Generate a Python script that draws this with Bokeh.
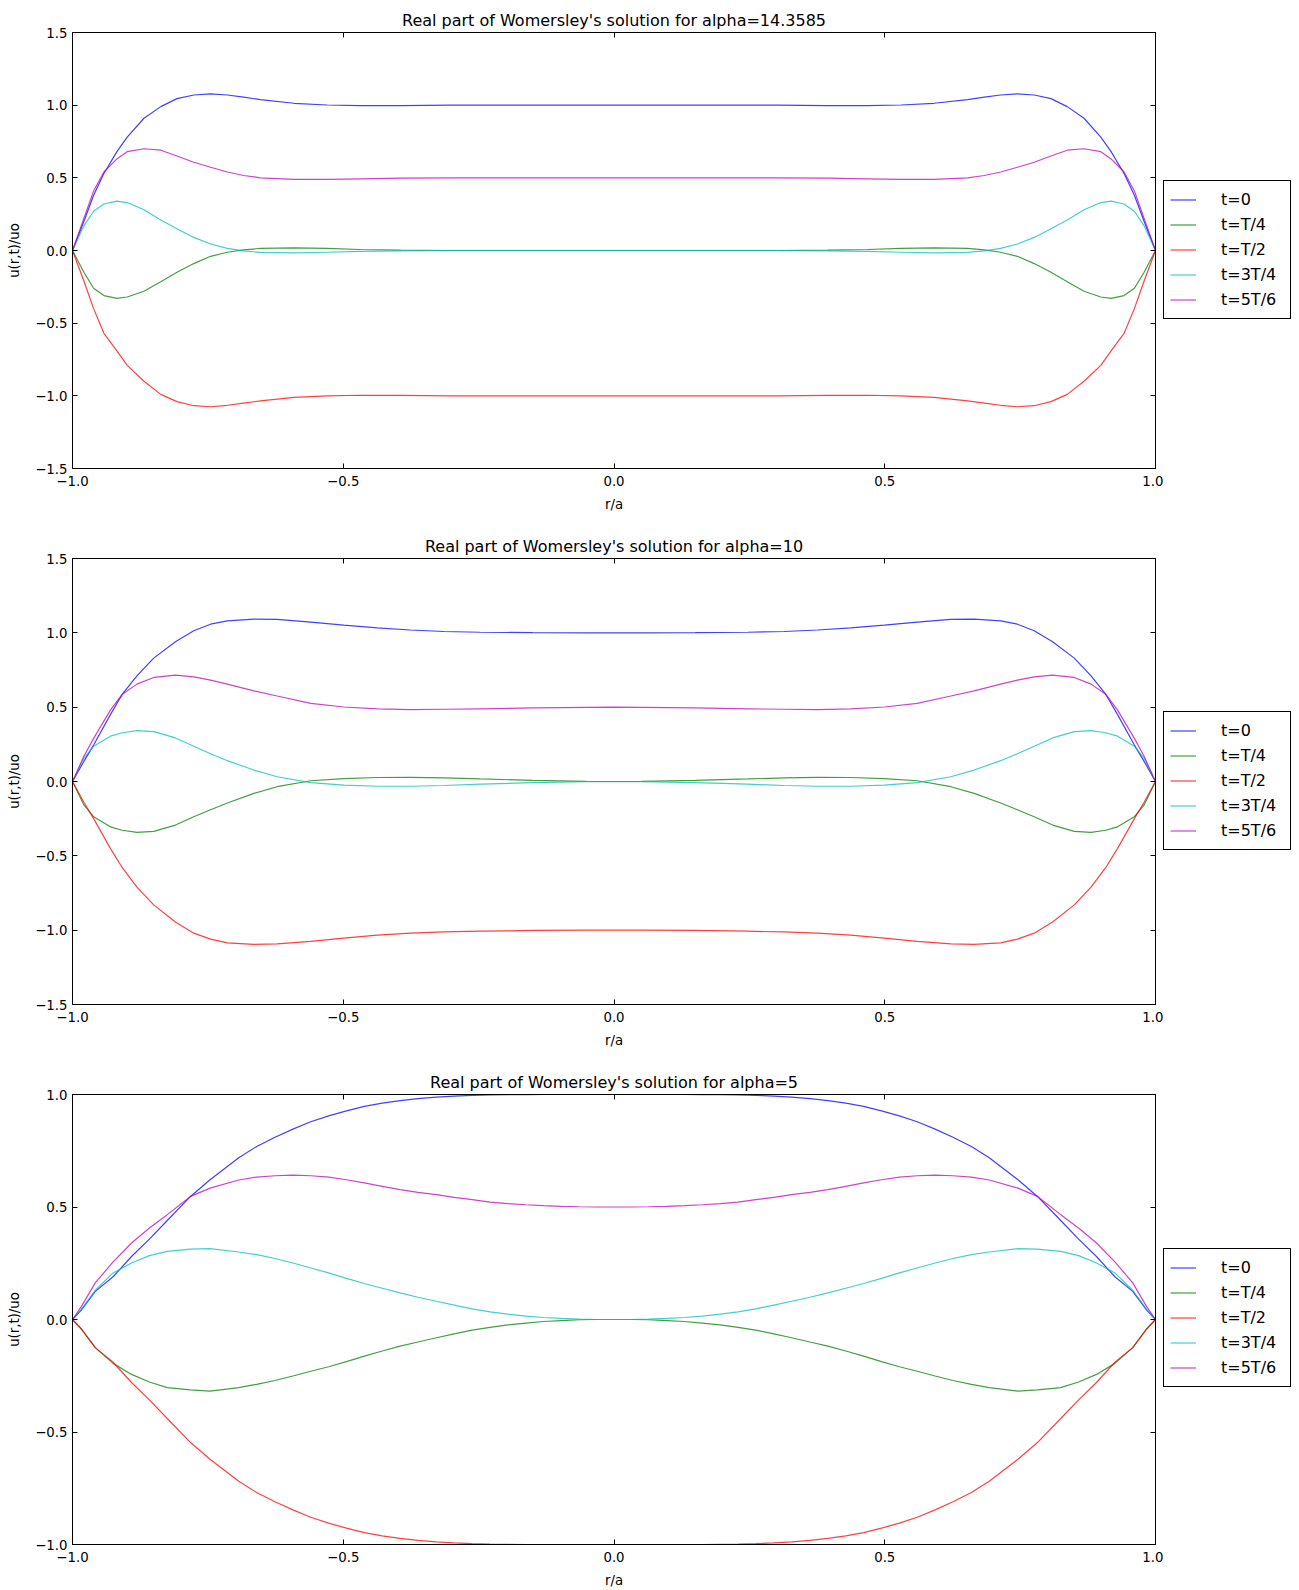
from bokeh.plotting import figure
from bokeh.models import (Range1d, LinearAxis, FixedTicker, CustomJSTickFormatter,
                          Legend, LegendItem)
from bokeh.layouts import column, row
from bokeh.embed import file_html
from bokeh.resources import INLINE

# ---------------- data ----------------
labels = ["t=0", "t=T/4", "t=T/2", "t=3T/4", "t=5T/6"]
titles = ["Real part of Womersley's solution for alpha=14.3585",
          "Real part of Womersley's solution for alpha=10",
          "Real part of Womersley's solution for alpha=5"]
x_ticks = [-1.0, -0.5, 0.0, 0.5, 1.0]
y_ticks_a = [-1.5, -1.0, -0.5, 0.0, 0.5, 1.0, 1.5]
y_ticks_b = [-1.0, -0.5, 0.0, 0.5, 1.0]

# panel 1 (alpha = 14.3585)
x1 = [-1.0, -0.979, -0.961, -0.942, -0.918, -0.899, -0.868, -0.837, -0.807, -0.776, -0.745,
      -0.714, -0.684, -0.653, -0.591, -0.53, -0.468, -0.394, -0.3, -0.2, -0.1, 0.0,
      0.1, 0.2, 0.3, 0.394, 0.468, 0.53, 0.591, 0.653, 0.684, 0.714, 0.745, 0.776,
      0.807, 0.837, 0.868, 0.899, 0.918, 0.942, 0.961, 0.979, 1.0]
blue1 = [0.0, 0.2, 0.38, 0.53, 0.68, 0.78, 0.91, 0.99, 1.045, 1.07, 1.078, 1.07, 1.055, 1.038,
         1.013, 1.001, 0.997, 0.997, 1.0, 1.0, 1.0, 1.0,
         1.0, 1.0, 1.0, 0.997, 0.997, 1.001, 1.013, 1.038, 1.055, 1.07, 1.078, 1.07, 1.045,
         0.99, 0.91, 0.78, 0.68, 0.53, 0.38, 0.2, 0.0]
green1 = [0.0, -0.15, -0.26, -0.31, -0.33, -0.32, -0.28, -0.215, -0.15, -0.09, -0.04, -0.012,
          0.004, 0.014, 0.018, 0.014, 0.007, 0.002, 0.0, 0.0, 0.0, 0.0,
          0.0, 0.0, 0.0, 0.002, 0.007, 0.014, 0.018, 0.014, 0.004, -0.012, -0.04, -0.09,
          -0.15, -0.215, -0.28, -0.32, -0.33, -0.31, -0.26, -0.15, 0.0]
red1 = [0.0, -0.21, -0.4, -0.57, -0.69, -0.79, -0.9, -0.99, -1.04, -1.068, -1.075, -1.065,
        -1.05, -1.035, -1.01, -1.0, -0.996, -0.997, -1.0, -1.0, -1.0, -1.0,
        -1.0, -1.0, -1.0, -0.997, -0.996, -1.0, -1.01, -1.035, -1.05, -1.065, -1.075, -1.068,
        -1.04, -0.99, -0.9, -0.79, -0.69, -0.57, -0.4, -0.21, 0.0]
cyan1 = [0.0, 0.17, 0.27, 0.32, 0.34, 0.33, 0.28, 0.21, 0.15, 0.09, 0.045, 0.015, -0.003,
         -0.013, -0.017, -0.012, -0.006, -0.002, 0.0, 0.0, 0.0, 0.0,
         0.0, 0.0, 0.0, -0.002, -0.006, -0.012, -0.017, -0.013, -0.003, 0.015, 0.045, 0.09,
         0.15, 0.21, 0.28, 0.33, 0.34, 0.32, 0.27, 0.17, 0.0]
magenta1 = [0.0, 0.22, 0.41, 0.54, 0.63, 0.68, 0.7, 0.69, 0.65, 0.607, 0.573, 0.54, 0.516, 0.5,
            0.49, 0.489, 0.493, 0.498, 0.5, 0.5, 0.5, 0.5,
            0.5, 0.5, 0.5, 0.498, 0.493, 0.489, 0.49, 0.5, 0.516, 0.54, 0.573, 0.607, 0.65,
            0.69, 0.7, 0.68, 0.63, 0.54, 0.41, 0.22, 0.0]

# panel 2 (alpha = 10)
x2 = [-1.0, -0.979, -0.961, -0.93, -0.908, -0.881, -0.85, -0.81, -0.776, -0.745, -0.714,
      -0.665, -0.622, -0.56, -0.499, -0.437, -0.376, -0.314, -0.247, -0.15, -0.05, 0.0,
      0.05, 0.15, 0.247, 0.314, 0.376, 0.437, 0.499, 0.56, 0.622, 0.665, 0.714, 0.745,
      0.776, 0.81, 0.85, 0.881, 0.908, 0.93, 0.961, 0.979, 1.0]
blue2 = [0.0, 0.135, 0.245, 0.45, 0.587, 0.71, 0.83, 0.94, 1.014, 1.058, 1.08, 1.092, 1.09,
         1.072, 1.052, 1.033, 1.019, 1.009, 1.004, 1.001, 1.0, 1.0,
         1.0, 1.001, 1.004, 1.009, 1.019, 1.033, 1.052, 1.072, 1.09, 1.092, 1.08, 1.058,
         1.014, 0.94, 0.83, 0.71, 0.587, 0.45, 0.245, 0.135, 0.0]
green2 = [0.0, -0.158, -0.237, -0.305, -0.328, -0.342, -0.335, -0.293, -0.237, -0.19, -0.145,
          -0.08, -0.035, 0.005, 0.02, 0.027, 0.028, 0.024, 0.017, 0.008, 0.001, 0.0,
          0.001, 0.008, 0.017, 0.024, 0.028, 0.027, 0.02, 0.005, -0.035, -0.08, -0.145, -0.19,
          -0.237, -0.293, -0.335, -0.342, -0.328, -0.305, -0.237, -0.158, 0.0]
red2 = [0.0, -0.14, -0.25, -0.45, -0.58, -0.71, -0.83, -0.945, -1.02, -1.06, -1.085, -1.095,
        -1.092, -1.075, -1.053, -1.034, -1.02, -1.012, -1.007, -1.002, -1.0, -1.0,
        -1.0, -1.002, -1.007, -1.012, -1.02, -1.034, -1.053, -1.075, -1.092, -1.095, -1.085,
        -1.06, -1.02, -0.945, -0.83, -0.71, -0.58, -0.45, -0.25, -0.14, 0.0]
cyan2 = [0.0, 0.158, 0.237, 0.305, 0.328, 0.342, 0.335, 0.293, 0.237, 0.187, 0.14, 0.077,
         0.032, -0.007, -0.025, -0.032, -0.032, -0.027, -0.018, -0.008, -0.001, 0.0,
         -0.001, -0.008, -0.018, -0.027, -0.032, -0.032, -0.025, -0.007, 0.032, 0.077, 0.14,
         0.187, 0.237, 0.293, 0.335, 0.342, 0.328, 0.305, 0.237, 0.158, 0.0]
magenta2 = [0.0, 0.17, 0.29, 0.48, 0.587, 0.655, 0.7, 0.716, 0.704, 0.682, 0.655, 0.61, 0.575,
            0.526, 0.501, 0.489, 0.484, 0.486, 0.489, 0.495, 0.499, 0.5,
            0.499, 0.495, 0.489, 0.486, 0.484, 0.489, 0.501, 0.526, 0.575, 0.61, 0.655, 0.682,
            0.704, 0.716, 0.7, 0.655, 0.587, 0.48, 0.29, 0.17, 0.0]

# panel 3 (alpha = 5)
x3 = [-1.0, -0.984, -0.958, -0.925, -0.891, -0.858, -0.825, -0.782, -0.746, -0.693, -0.66,
      -0.626, -0.593, -0.56, -0.527, -0.494, -0.461, -0.428, -0.395, -0.362, -0.328, -0.295,
      -0.262, -0.229, -0.196, -0.163, -0.13, -0.097, -0.064, -0.032, 0.0,
      0.032, 0.064, 0.097, 0.13, 0.163, 0.196, 0.229, 0.262, 0.295, 0.328, 0.362, 0.395,
      0.428, 0.461, 0.494, 0.527, 0.56, 0.593, 0.626, 0.66, 0.693, 0.746, 0.782, 0.825,
      0.858, 0.891, 0.925, 0.958, 0.984, 1.0]
blue3 = [0.0, 0.041, 0.125, 0.19, 0.28, 0.357, 0.44, 0.547, 0.621, 0.719, 0.769, 0.81, 0.846,
         0.879, 0.905, 0.927, 0.947, 0.962, 0.973, 0.982, 0.988, 0.993, 0.996, 0.998, 0.999,
         0.999, 1.0, 1.0, 1.0, 1.0, 1.0,
         1.0, 1.0, 1.0, 1.0, 0.999, 0.999, 0.998, 0.996, 0.993, 0.988, 0.982, 0.973, 0.962,
         0.947, 0.927, 0.905, 0.879, 0.846, 0.81, 0.769, 0.719, 0.621, 0.547, 0.44, 0.357,
         0.28, 0.19, 0.125, 0.041, 0.0]
green3 = [0.0, -0.041, -0.125, -0.195, -0.244, -0.278, -0.303, -0.313, -0.318, -0.303, -0.288,
          -0.271, -0.251, -0.23, -0.21, -0.187, -0.163, -0.14, -0.118, -0.1, -0.081, -0.064,
          -0.047, -0.035, -0.024, -0.016, -0.009, -0.005, -0.001, 0.0, 0.0,
          0.0, -0.001, -0.005, -0.009, -0.016, -0.024, -0.035, -0.047, -0.064, -0.081, -0.1,
          -0.118, -0.14, -0.163, -0.187, -0.21, -0.23, -0.251, -0.271, -0.288, -0.303, -0.318,
          -0.313, -0.303, -0.278, -0.244, -0.195, -0.125, -0.041, 0.0]
red3 = [0.0, -0.041, -0.125, -0.19, -0.28, -0.357, -0.44, -0.547, -0.621, -0.719, -0.769,
        -0.81, -0.846, -0.879, -0.905, -0.927, -0.947, -0.962, -0.973, -0.982, -0.988, -0.993,
        -0.996, -0.998, -0.999, -1.0, -1.0, -1.0, -1.0, -1.0, -1.0,
        -1.0, -1.0, -1.0, -1.0, -1.0, -0.999, -0.998, -0.996, -0.993, -0.988, -0.982, -0.973,
        -0.962, -0.947, -0.927, -0.905, -0.879, -0.846, -0.81, -0.769, -0.719, -0.621, -0.547,
        -0.44, -0.357, -0.28, -0.19, -0.125, -0.041, 0.0]
cyan3 = [0.0, 0.044, 0.13, 0.207, 0.251, 0.284, 0.303, 0.313, 0.315, 0.3, 0.288, 0.271, 0.251,
         0.229, 0.207, 0.183, 0.16, 0.139, 0.118, 0.099, 0.081, 0.064, 0.047, 0.034, 0.024,
         0.015, 0.009, 0.005, 0.002, 0.0, 0.0,
         0.0, 0.002, 0.005, 0.009, 0.015, 0.024, 0.034, 0.047, 0.064, 0.081, 0.099, 0.118,
         0.139, 0.16, 0.183, 0.207, 0.229, 0.251, 0.271, 0.288, 0.3, 0.315, 0.313, 0.303,
         0.284, 0.251, 0.207, 0.13, 0.044, 0.0]
magenta3 = [0.0, 0.056, 0.163, 0.256, 0.34, 0.407, 0.466, 0.547, 0.584, 0.62, 0.633, 0.639,
            0.642, 0.639, 0.633, 0.621, 0.607, 0.592, 0.577, 0.565, 0.555, 0.543, 0.533, 0.522,
            0.515, 0.51, 0.506, 0.503, 0.501, 0.5, 0.5,
            0.5, 0.501, 0.503, 0.506, 0.51, 0.515, 0.522, 0.533, 0.543, 0.555, 0.565, 0.577,
            0.592, 0.607, 0.621, 0.633, 0.639, 0.642, 0.639, 0.633, 0.62, 0.584, 0.547, 0.466,
            0.407, 0.34, 0.256, 0.163, 0.056, 0.0]

# ---------------- styling ----------------
colors = ["#0000ff", "#008000", "#ff0000", "#00bfbf", "#bf00bf"]
FONT = "DejaVu Sans"
TICK_FS = "13.3px"
BIG_FS = "16px"
MAIN_W = 1163
LEG_W = 1299 - MAIN_W

num_fmt = "return tick.toFixed(1).replace('-', '\u2212');"


def style_axis(ax, ticks, show_labels, standoff_label=12):
    ax.ticker = FixedTicker(ticks=ticks)
    ax.minor_tick_line_color = None
    ax.major_tick_in = 5
    ax.major_tick_out = 0
    ax.major_tick_line_color = "black"
    ax.axis_line_color = "black"
    if show_labels:
        ax.formatter = CustomJSTickFormatter(code=num_fmt)
        ax.major_label_text_font = FONT
        ax.major_label_text_font_size = TICK_FS
        ax.major_label_text_color = "black"
        ax.axis_label_text_font = FONT
        ax.axis_label_text_font_size = TICK_FS
        ax.axis_label_text_font_style = "normal"
        ax.axis_label_text_color = "black"
        ax.axis_label_standoff = standoff_label
    else:
        ax.formatter = CustomJSTickFormatter(code="return '';")
        ax.major_label_standoff = 0
        ax.major_label_text_font_size = "1px"


def make_panel(title, xs, series, ylo, yhi, yticks, height, top, bottom):
    p = figure(width=MAIN_W, height=height, output_backend="svg", toolbar_location=None,
               x_range=Range1d(-1.0, 1.0), y_range=Range1d(ylo, yhi),
               min_border_left=72, min_border_right=8,
               min_border_top=top, min_border_bottom=bottom)
    p.title.text = title
    p.title.text_font = FONT
    p.title.text_font_size = BIG_FS
    p.title.text_font_style = "normal"
    p.title.text_color = "black"
    p.title.align = "center"
    p.title.standoff = 6
    p.xgrid.visible = False
    p.ygrid.visible = False
    p.outline_line_color = "black"
    p.outline_line_width = 1
    p.outline_line_alpha = 1.0
    p.background_fill_color = "white"
    p.border_fill_color = "white"

    xa = p.xaxis[0]
    style_axis(xa, x_ticks, True, standoff_label=8)
    xa.major_label_standoff = 7
    xa.axis_label = "r/a"
    ya = p.yaxis[0]
    style_axis(ya, yticks, True, standoff_label=10)
    ya.major_label_standoff = 5
    ya.axis_label = "u(r,t)/uo"

    top_ax = LinearAxis()
    style_axis(top_ax, x_ticks, False)
    p.add_layout(top_ax, "above")
    right_ax = LinearAxis()
    style_axis(right_ax, yticks, False)
    p.add_layout(right_ax, "right")

    for col, ys in zip(colors, series):
        p.line(xs, ys, line_color=col, line_width=1.2, line_alpha=0.75)

    # legend lives in a narrow companion figure to the right of the plot;
    # its own copies of the curves sit outside its (off-data) ranges
    q = figure(width=LEG_W, height=height, output_backend="svg", toolbar_location=None,
               x_range=Range1d(10, 11), y_range=Range1d(10, 11), x_axis_type=None,
               y_axis_type=None, min_border_left=0, min_border_right=0,
               min_border_top=top, min_border_bottom=bottom)
    q.outline_line_color = None
    q.grid.visible = False
    q.background_fill_color = "white"
    q.border_fill_color = "white"
    items = []
    for lab, col, ys in zip(labels, colors, series):
        r = q.line(xs, ys, line_color=col, line_width=1.2, line_alpha=0.75)
        items.append(LegendItem(label=lab, renderers=[r]))
    frame_h = height - top - bottom
    leg_h = 137
    leg = Legend(items=items, location=(0, (frame_h - leg_h) // 2), margin=0,
                 padding=6, spacing=0, label_height=25, glyph_height=25, glyph_width=26,
                 label_standoff=25, label_width=63, border_line_color="black",
                 border_line_width=1, border_line_alpha=1.0, background_fill_color="white",
                 background_fill_alpha=1.0, label_text_font=FONT,
                 label_text_font_size=BIG_FS, label_text_color="black")
    q.add_layout(leg, "center")
    return row(p, q, spacing=0)


r1 = make_panel(titles[0], x1, [blue1, green1, red1, cyan1, magenta1],
                -1.5, 1.5, y_ticks_a, 520, 32, 52)
r2 = make_panel(titles[1], x2, [blue2, green2, red2, cyan2, magenta2],
                -1.5, 1.5, y_ticks_a, 530, 38, 46)
r3 = make_panel(titles[2], x3, [blue3, green3, red3, cyan3, magenta3],
                -1.0, 1.0, y_ticks_b, 540, 44, 45)

layout = column(r1, r2, r3, spacing=0)
open("out.html", "w").write(file_html(layout, INLINE))
